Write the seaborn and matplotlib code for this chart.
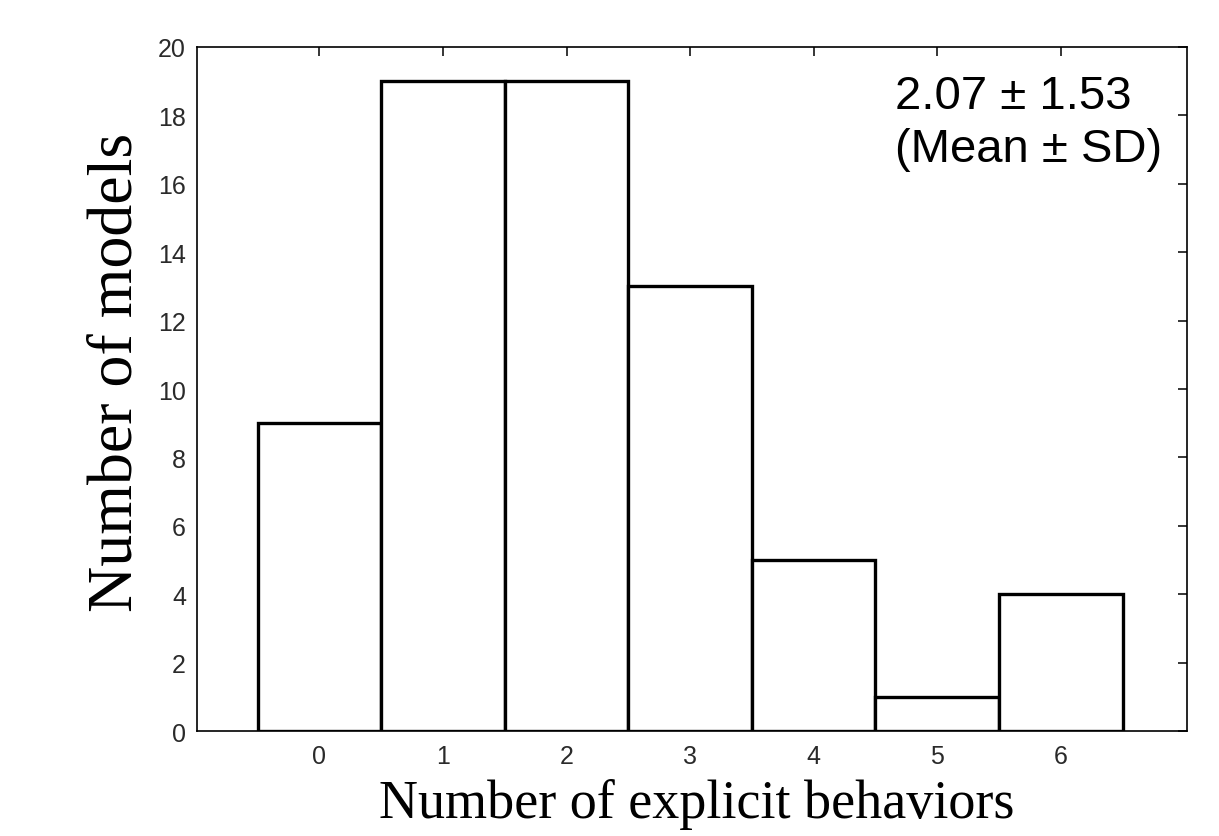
import matplotlib
matplotlib.use("Agg")
import pandas as pd
import seaborn as sns
import matplotlib.pyplot as plt

# data
behaviors = [0, 1, 2, 3, 4, 5, 6]
counts = [9, 19, 19, 13, 5, 1, 4]
y_ticks = [0, 2, 4, 6, 8, 10, 12, 14, 16, 18, 20]
stat_line = "2.07 \u00b1 1.53"
stat_note = "(Mean \u00b1 SD)"

sns.set_style("white")
plt.rcParams["font.family"] = ["Liberation Sans", "DejaVu Sans"]
plt.rcParams["text.color"] = "black"
plt.rcParams["axes.labelcolor"] = "black"

df = pd.DataFrame({"behaviors": behaviors, "count": counts})

fig = plt.figure(figsize=(12.19, 8.37), dpi=100)
ax = fig.add_axes([0.1616, 0.1254, 0.8121, 0.8173])

sns.barplot(
    data=df,
    x="behaviors",
    y="count",
    color="white",
    saturation=1,
    edgecolor="black",
    linewidth=2.4,
    width=1.0,
    ax=ax,
)

ax.set_xlim(-0.99, 7.02)
ax.set_ylim(0, 20)
ax.set_yticks(y_ticks)

for side in ["left", "right", "top", "bottom"]:
    ax.spines[side].set_visible(True)
    ax.spines[side].set_linewidth(1.2)
    ax.spines[side].set_color("black")

ax.tick_params(axis="both", direction="in", length=6.5, width=1.1, color="black",
               labelsize=18, labelcolor="#2a2a2a", top=True, right=True)
ax.tick_params(axis="y", pad=8)
ax.tick_params(axis="x", pad=9)

ax.set_xlabel("Number of explicit behaviors", family="Liberation Serif", size=39, color="black")
ax.set_ylabel("Number of models", family="Liberation Serif", size=46, color="black")
ax.xaxis.label.set_verticalalignment("baseline")
ax.yaxis.label.set_verticalalignment("baseline")
ax.xaxis.set_label_coords(0.505, -0.1257)
ax.yaxis.set_label_coords(-0.0657, 0.525)

ax.text(0.705, 0.911, stat_line, transform=ax.transAxes, fontsize=34, color="black",
        family="Liberation Sans", va="baseline", ha="left")
ax.text(0.705, 0.834, stat_note, transform=ax.transAxes, fontsize=34, color="black",
        family="Liberation Sans", va="baseline", ha="left")

fig.savefig("out.png", dpi=100)
